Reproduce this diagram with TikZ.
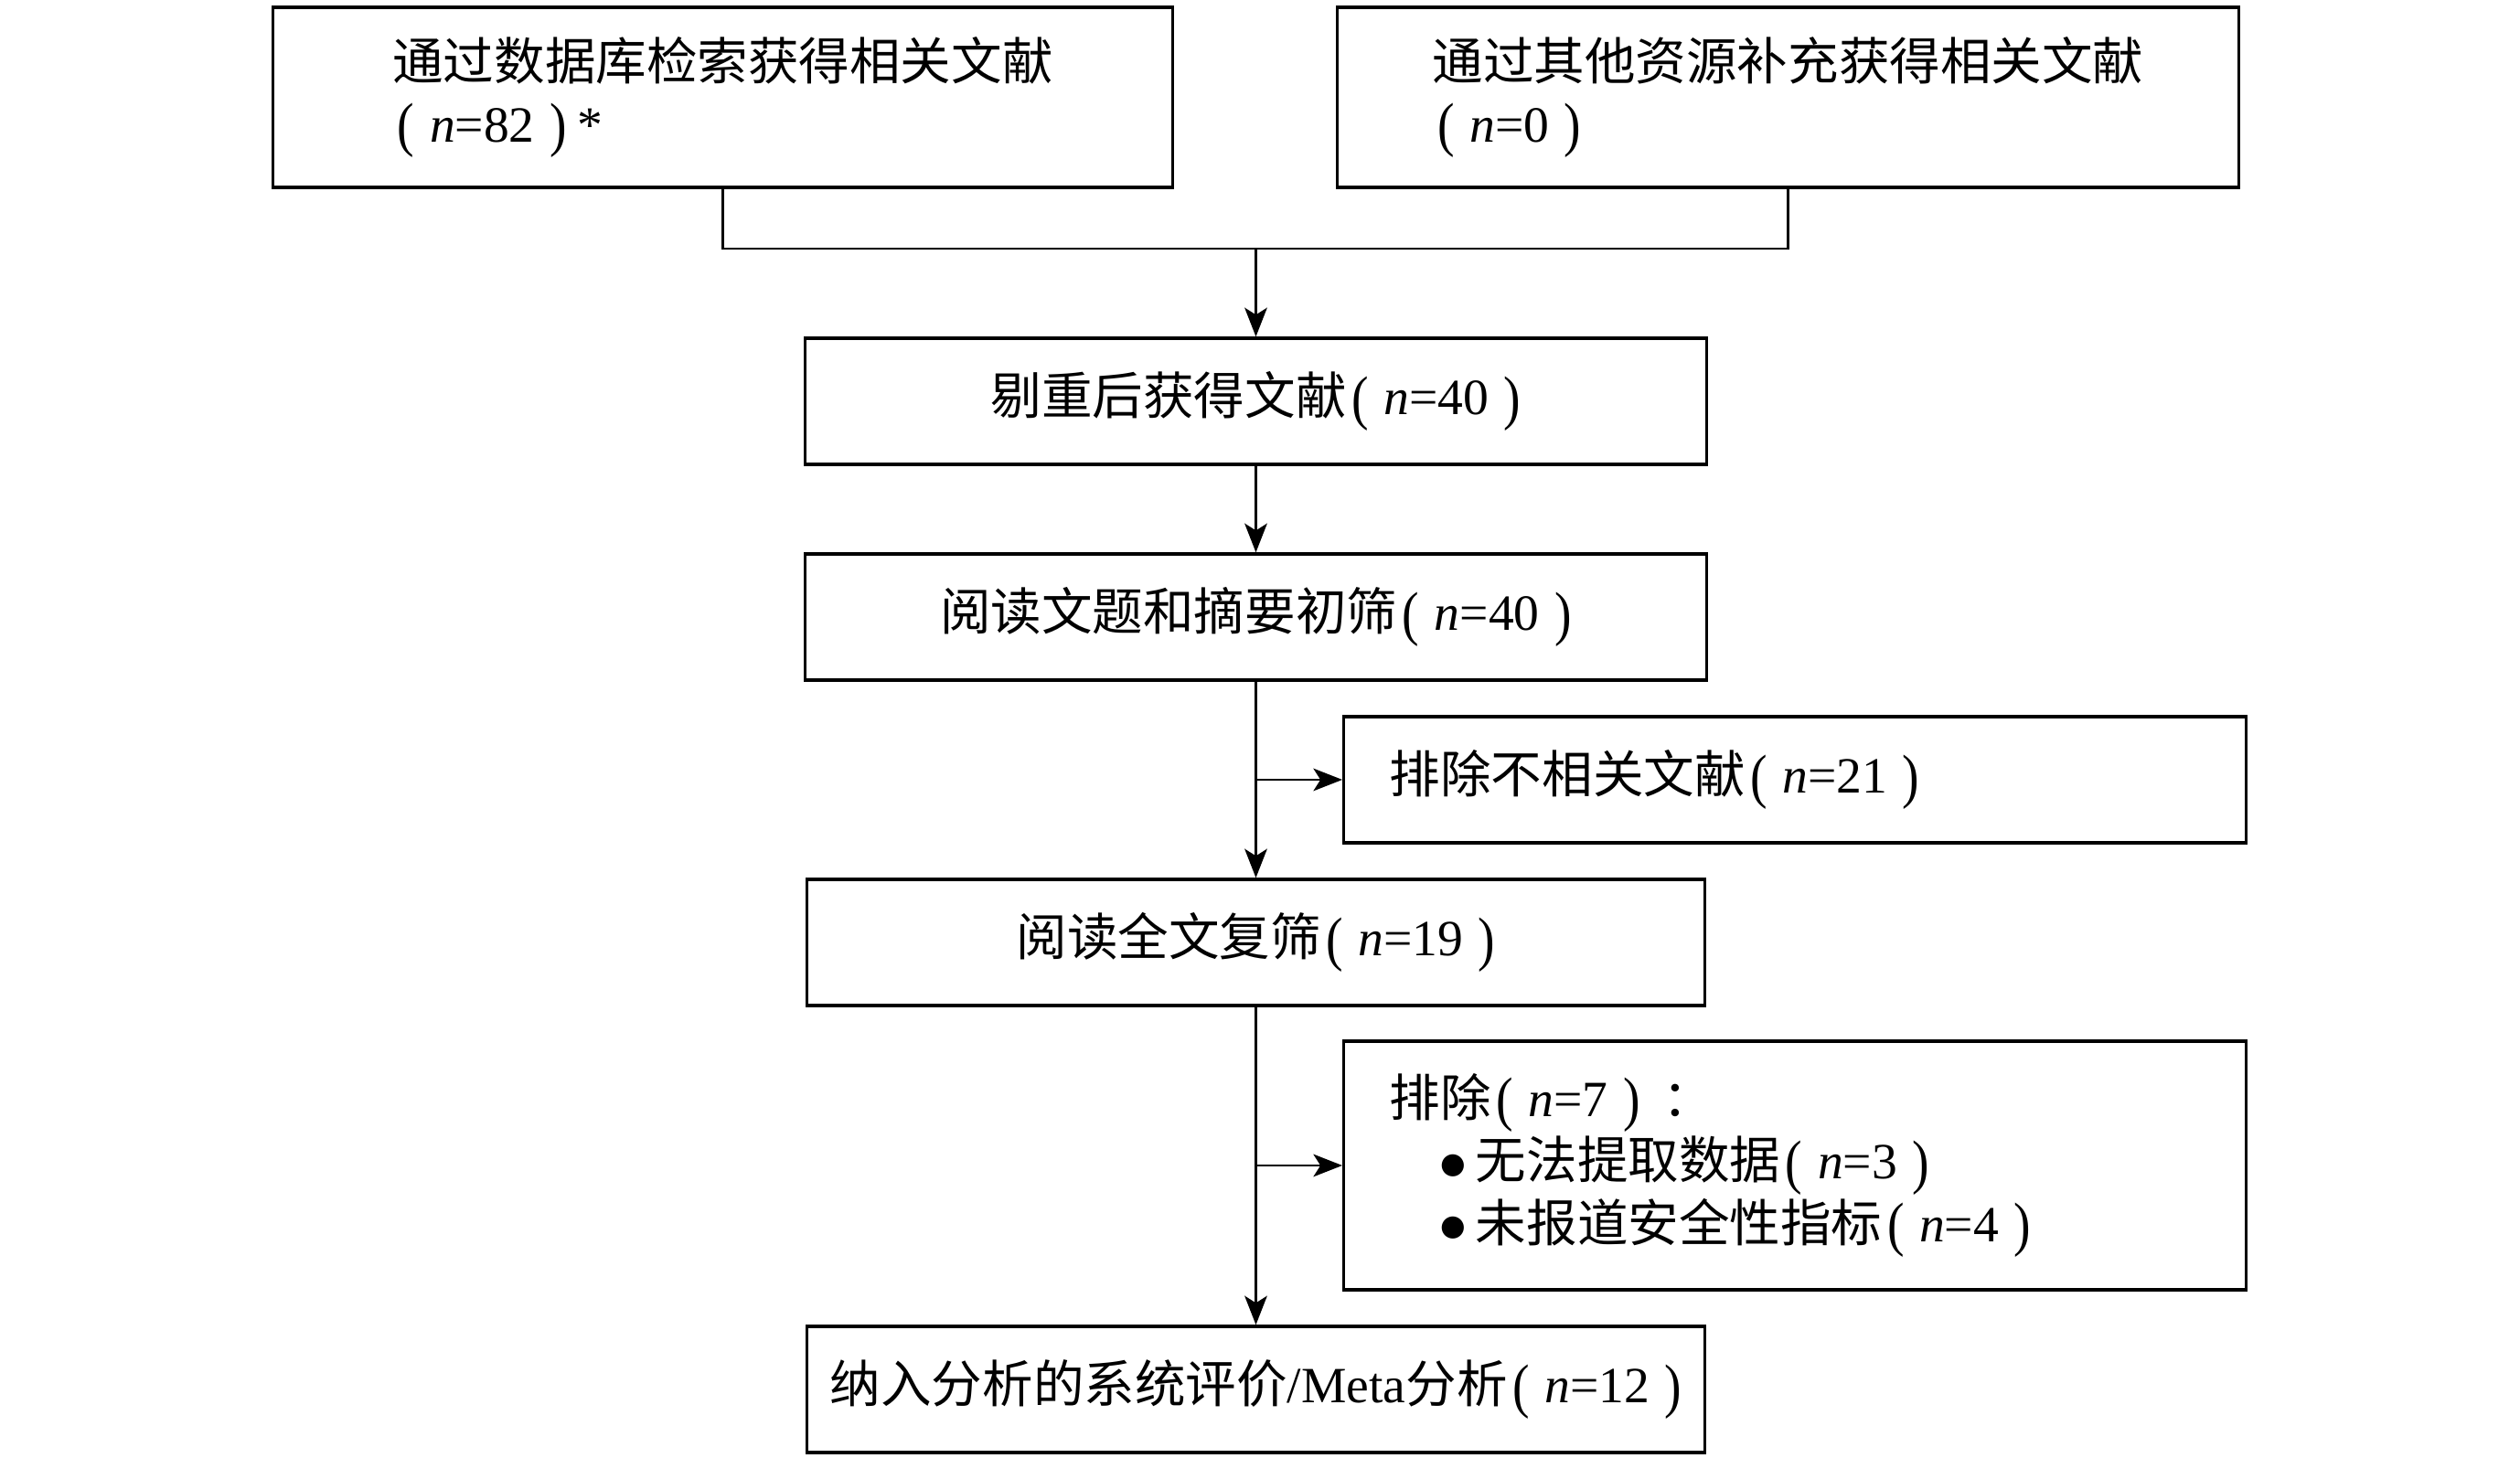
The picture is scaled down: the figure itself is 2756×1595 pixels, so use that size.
\documentclass[tikz,border=0pt]{standalone}
\usepackage{fontspec}
\usepackage{graphicx}
\setmainfont{Liberation Serif}
\newfontfamily\cjk{Noto Sans CJK SC}
\newfontfamily\dv{DejaVu Sans}
\usetikzlibrary{arrows.meta}
\newcommand\lpar{\raisebox{-0.06em}{\scalebox{1}[1.18]{(}}}
\newcommand\rpar{\raisebox{-0.06em}{\scalebox{1}[1.18]{)}}}
\newcommand\cnt[1]{\hspace{0.1em}\lpar\hspace{0.3em}\textit{n}=#1\hspace{0.3em}\rpar}
\newcommand\bul{\hspace*{0.56cm}\raisebox{1.8pt}{\dv\fontsize{9pt}{9pt}\selectfont ●}\hspace{3pt}}
\begin{document}
\begin{tikzpicture}[x=0.01cm,y=-0.01cm,
  box/.style={draw, line width=0.95pt, inner sep=0pt,
    font=\fontsize{15.8pt}{19.4pt}\selectfont},
  exbox/.style={box, align=left, text width=8.86cm, inner xsep=0.5cm, minimum width=9.86cm},
  conn/.style={line width=0.65pt},
  arr/.style={conn,-{Stealth[length=9pt,width=7pt,inset=2.2pt]}}]
\useasboundingbox (0,0) rectangle (2756,1595);

\node[box, minimum width=9.83cm, minimum height=1.97cm, align=left] (db) at (790.5,106.5)
  {{\cjk 通过数据库检索获得相关文献}\\\cnt{82}\hspace{0.2em}*};
\node[box, minimum width=9.85cm, minimum height=1.97cm, align=left] (oth) at (1955.5,106.5)
  {{\cjk 通过其他资源补充获得相关文献}\\\cnt{0}\hspace*{5.5cm}};

\node[box, minimum width=9.85cm, minimum height=1.38cm] (dedup) at (1373.5,439)
  {{\cjk 剔重后获得文献}\cnt{40}};
\node[box, minimum width=9.85cm, minimum height=1.38cm] (scr) at (1373.5,675)
  {{\cjk 阅读文题和摘要初筛}\cnt{40}};
\node[exbox, minimum height=1.38cm] (ex1) at (1963,853)
  {{\cjk 排除不相关文献}\cnt{21}};
\node[box, minimum width=9.82cm, minimum height=1.38cm] (full) at (1373.5,1031)
  {{\cjk 阅读全文复筛}\cnt{19}};
\node[exbox, minimum height=2.72cm] (ex2) at (1963,1275)
  {{\cjk 排除}\cnt{7}\hspace{0.45em}{\cjk ：}\\
   \bul{\cjk 无法提取数据}\cnt{3}\\
   \bul{\cjk 未报道安全性指标}\cnt{4}};
\node[box, minimum width=9.82cm, minimum height=1.38cm] (fin) at (1373.5,1520)
  {{\cjk 纳入分析的系统评价}/Meta{\cjk 分析}\cnt{12}};

\coordinate (j) at (1373.5,272);
\draw[conn] (db.south) |- (j) -| (oth.south);
\draw[arr] (j) -- (dedup.north);
\draw[arr] (dedup.south) -- (scr.north);
\draw[arr] (scr.south) -- (full.north);
\draw[arr] (scr.south |- ex1.west) -- (ex1.west);
\draw[arr] (full.south) -- (fin.north);
\draw[arr] (full.south |- ex2.west) -- (ex2.west);
\end{tikzpicture}
\end{document}
